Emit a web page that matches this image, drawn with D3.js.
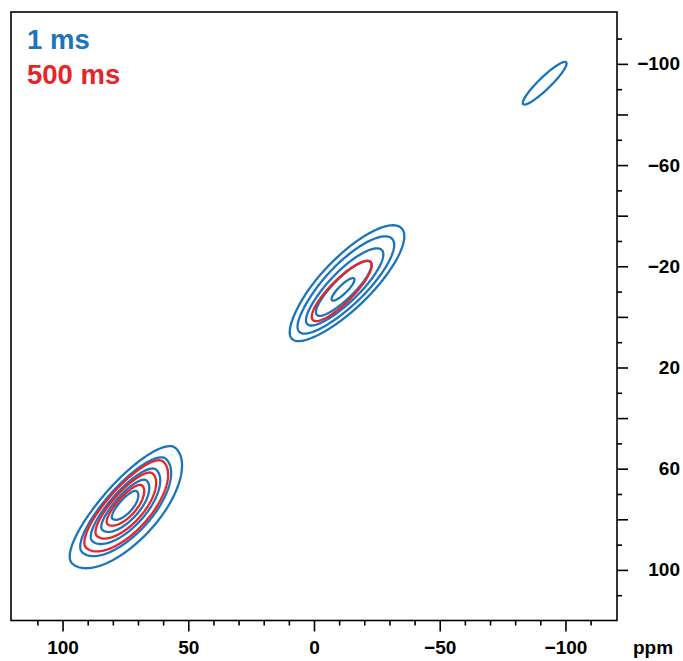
<!DOCTYPE html>
<html>
<head>
<meta charset="utf-8">
<script src="https://cdn.jsdelivr.net/npm/d3@7"></script>
<style>
  body { margin: 0; background: #fff; }
  text { font-family: "Liberation Sans", Arial, Helvetica, sans-serif; font-weight: bold; }
</style>
</head>
<body>
<div id="vis"></div>
<script>
// mixing times shown in the legend, in drawing order
var series = ['1 ms', '500 ms'];
var colors = ['#1b75bc', '#e8242a'];

// cross peaks, ppm:
// [f2, f1, height, half-width toward low ppm, toward high ppm,
//  half-width across (upper-left side), (lower-right side), tilt (deg), lineshape exponent]
var peaks1ms = [
  [75, 74, 37.9, 8.3, 8.6, 2.4, 3.9, 48, 1],
  [-11.3, -10.5, 13, 10, 10, 2.6, 2.6, 44, 2],
  [-14, -14.5, 6, 15.5, 15.5, 5.2, 5.2, 45, 2],
  [-92, -92.6, 1.6, 12.3, 12.3, 2.45, 2.45, 44, 2]
];
var peaks500ms = [
  [75, 74, 12.4, 9.1, 9.1, 2.6, 4.2, 48, 1],
  [-11.3, -10.5, 1.8, 15.0, 15.0, 4.2, 4.2, 45, 2]
];

// contour levels for each spectrum
var levels1ms = [1, 2, 4, 8, 16];
var levels500ms = [1, 2, 4];

// axis ticks
var xMajor = [100, 50, 0, -50, -100];
var xMinor = [110, 90, 80, 70, 60, 40, 30, 20, 10, -10, -20, -30, -40, -60, -70, -80, -90, -110];
var yMajor = [-100, -60, -20, 20, 60, 100];
var yMid = [-80, -40, 0, 40, 80];
var yMinor = [-110, -90, -70, -50, -30, -10, 10, 30, 50, 70, 90, 110];

var width = 683, height = 661;
var margin = { top: 12, left: 11, right: 66, bottom: 40.5 };

var x = d3.scaleLinear().domain([120.5, -120.5]).range([margin.left, width - margin.right]);
var y = d3.scaleLinear().domain([-120.5, 120]).range([margin.top, height - margin.bottom]);

var svg = d3.select('#vis').append('svg')
  .attr('width', width)
  .attr('height', height);

svg.append('defs').append('clipPath').attr('id', 'plot')
  .append('rect')
  .attr('x', x.range()[0]).attr('y', y.range()[0])
  .attr('width', x.range()[1] - x.range()[0])
  .attr('height', y.range()[1] - y.range()[0]);

// sample the spectrum on a ppm grid
var step = 0.5;
var x0 = -120.5, y0 = -120.5;
var nx = Math.round(241 / step) + 1, ny = Math.round(241 / step) + 1;

function field(peaks) {
  var values = new Float64Array(nx * ny);
  peaks.forEach(function (p) {
    var a = p[7] * Math.PI / 180, c = Math.cos(a), s = Math.sin(a);
    for (var j = 0; j < ny; ++j) {
      var dy = y0 + j * step - p[1];
      for (var i = 0; i < nx; ++i) {
        var dx = x0 + i * step - p[0];
        var u = dx * c + dy * s;
        var v = -dx * s + dy * c;
        u /= u > 0 ? p[4] : p[3];
        v /= v > 0 ? p[6] : p[5];
        var r = Math.sqrt(u * u + v * v);
        values[j * nx + i] += p[2] * Math.exp(-Math.pow(r, p[8]) / p[8]);
      }
    }
  });
  return values;
}

var gridToPx = d3.geoTransform({
  point: function (gx, gy) {
    this.stream.point(x(x0 + gx * step), y(y0 + gy * step));
  }
});
var path = d3.geoPath(gridToPx);

var spectra = [
  { peaks: peaks1ms, levels: levels1ms },
  { peaks: peaks500ms, levels: levels500ms }
];

var plot = svg.append('g').attr('clip-path', 'url(#plot)');

spectra.forEach(function (d, k) {
  var contours = d3.contours()
    .size([nx, ny])
    .thresholds(d.levels)(field(d.peaks));
  plot.append('g').selectAll('path')
    .data(contours)
    .enter()
    .append('path')
    .attr('d', path)
    .attr('fill', 'none')
    .attr('stroke', colors[k])
    .attr('stroke-width', 2.3)
    .attr('stroke-linejoin', 'round');
});

// frame
svg.append('rect')
  .attr('x', x.range()[0]).attr('y', y.range()[0])
  .attr('width', x.range()[1] - x.range()[0])
  .attr('height', y.range()[1] - y.range()[0])
  .attr('fill', 'none')
  .attr('stroke', '#000')
  .attr('stroke-width', 1.6);

var bottom = y.range()[1], right = x.range()[1];

// x axis: minor then labelled major ticks
svg.append('g')
  .attr('transform', 'translate(0,' + bottom + ')')
  .call(d3.axisBottom(x).tickValues(xMinor).tickSize(5).tickFormat(''))
  .call(function (g) { g.select('.domain').remove(); });

svg.append('g')
  .attr('class', 'xaxis')
  .attr('transform', 'translate(0,' + bottom + ')')
  .call(d3.axisBottom(x).tickValues(xMajor).tickSize(11).tickPadding(9))
  .call(function (g) { g.select('.domain').remove(); });

// y axis on the right
svg.append('g')
  .attr('transform', 'translate(' + right + ',0)')
  .call(d3.axisRight(y).tickValues(yMinor).tickSize(5).tickFormat(''))
  .call(function (g) { g.select('.domain').remove(); });

svg.append('g')
  .attr('transform', 'translate(' + right + ',0)')
  .call(d3.axisRight(y).tickValues(yMid).tickSize(11).tickFormat(''))
  .call(function (g) { g.select('.domain').remove(); });

svg.append('g')
  .attr('class', 'yaxis')
  .attr('transform', 'translate(' + right + ',0)')
  .call(d3.axisRight(y).tickValues(yMajor).tickSize(11))
  .call(function (g) { g.select('.domain').remove(); });

svg.selectAll('.tick line').attr('stroke', '#000').attr('stroke-width', 1.6);
svg.selectAll('.xaxis text, .yaxis text')
  .attr('fill', '#000')
  .style('font-size', '19px');
svg.selectAll('.yaxis text')
  .attr('text-anchor', 'end')
  .attr('x', 680 - right);

svg.append('text')
  .attr('x', 633)
  .attr('y', 654)
  .style('font-size', '19px')
  .text('ppm');

// legend
svg.append('g').selectAll('text')
  .data(series)
  .enter()
  .append('text')
  .attr('x', 27)
  .attr('y', function (d, i) { return 49 + i * 35; })
  .attr('fill', function (d, i) { return colors[i]; })
  .style('font-size', '27.5px')
  .text(function (d) { return d; });
</script>
</body>
</html>
